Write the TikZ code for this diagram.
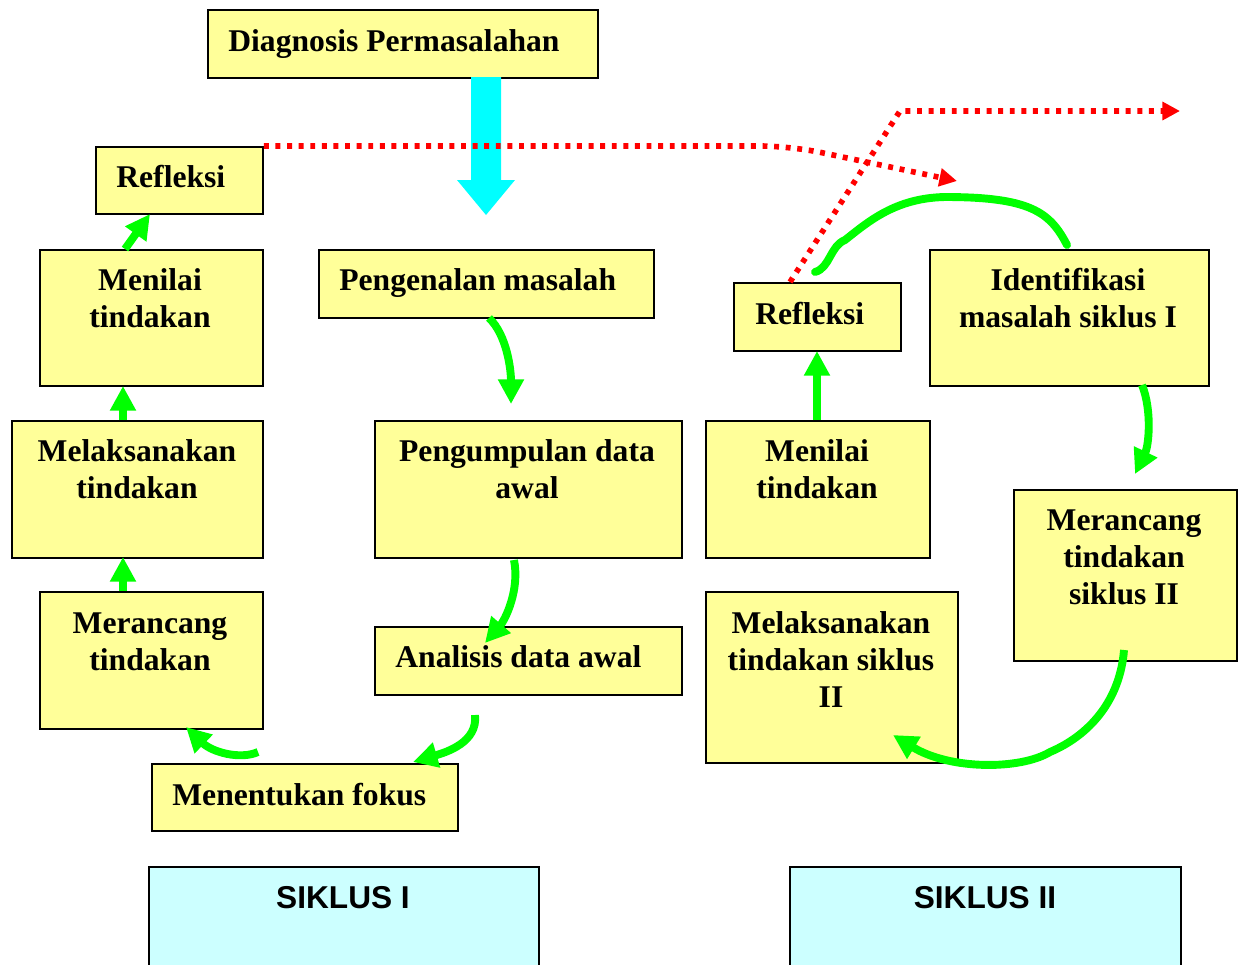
\documentclass[tikz,border=0pt]{standalone}
\usepackage{fontspec}
\setmainfont{Liberation Serif}
\newfontfamily\sikfont{Liberation Sans}
\usetikzlibrary{arrows.meta}
\definecolor{boxyellow}{HTML}{FFFF99}
\definecolor{sikcyan}{HTML}{CCFFFF}
\definecolor{bigcyan}{HTML}{00FFFF}
\definecolor{arrowgreen}{HTML}{00FF00}
\definecolor{dotred}{HTML}{FF0000}
\begin{document}
\begin{tikzpicture}[x=0.02cm,y=-0.02cm,
  box/.style={draw=black, line width=1.1pt, fill=boxyellow, inner sep=0pt, anchor=north west},
  sbox/.style={draw=black, line width=1.1pt, fill=sikcyan, inner sep=0pt, anchor=north west},
  txt/.style={font=\fontsize{18}{21}\selectfont\bfseries, align=center, inner sep=0pt, anchor=base},
  ltxt/.style={font=\fontsize{18}{21}\selectfont\bfseries, inner sep=0pt, anchor=base west},
  stxt/.style={font=\fontsize{18}{21}\selectfont\sikfont\bfseries, inner sep=0pt, anchor=base},
  garrow/.style={draw=arrowgreen, line width=4.5pt, -{Triangle[length=14pt,width=14pt]}},
  gline/.style={draw=arrowgreen, line width=4.5pt, line cap=round},
  rarrow/.style={draw=dotred, line width=3.2pt, dash pattern=on 2.8pt off 3.8pt, -{Triangle[length=10pt,width=10pt]}}
]
\clip (0,0) rectangle (1243,964);

% boxes
\node[box, minimum width=7.8cm,  minimum height=1.36cm] (diag)   at (207,9)   {};
\node[box, minimum width=3.34cm, minimum height=1.34cm] (refL)   at (95,146)  {};
\node[box, minimum width=4.46cm, minimum height=2.72cm] (menL)   at (39,249)  {};
\node[box, minimum width=6.7cm,  minimum height=1.36cm] (peng)   at (318,249) {};
\node[box, minimum width=5.02cm, minimum height=2.74cm] (melL)   at (11,420)  {};
\node[box, minimum width=6.14cm, minimum height=2.74cm] (pengum) at (374,420) {};
\node[box, minimum width=4.46cm, minimum height=2.74cm] (merL)   at (39,591)  {};
\node[box, minimum width=6.14cm, minimum height=1.36cm] (anal)   at (374,626) {};
\node[box, minimum width=6.12cm, minimum height=1.34cm] (ment)   at (151,763) {};
\node[sbox, minimum width=7.8cm, minimum height=2.4cm]  (sik1)   at (148,866) {};
\node[sbox, minimum width=7.82cm, minimum height=2.4cm] (sik2)   at (789,866) {};
\node[box, minimum width=3.34cm, minimum height=1.36cm] (refR)   at (733,282) {};
\node[box, minimum width=5.58cm, minimum height=2.72cm] (ident)  at (929,249) {};
\node[box, minimum width=4.48cm, minimum height=2.74cm] (menR)   at (705,420) {};
\node[box, minimum width=4.46cm, minimum height=3.42cm] (merR)   at (1013,489) {};
\node[box, minimum width=5.04cm, minimum height=3.42cm] (melR)   at (705,591) {};

% texts (multi-line nodes: base anchor is the last line)
\node[ltxt] (tdiag)   at (228,51)  {Diagnosis Permasalahan};
\node[ltxt] (trefL)   at (116,187) {Refleksi};
\node[txt]  (tmenL)   at (150,327) {Menilai\\tindakan};
\node[ltxt] (tpeng)   at (339,290) {Pengenalan masalah};
\node[txt]  (tmelL)   at (137,498) {Melaksanakan\\tindakan};
\node[txt]  (tpengum) at (527,498) {Pengumpulan data\\awal};
\node[txt]  (tmerL)   at (150,670) {Merancang\\tindakan};
\node[ltxt] (tanal)   at (395,667) {Analisis data awal};
\node[ltxt] (tment)   at (172,805) {Menentukan fokus};
\node[stxt] (tsik1)   at (343,908) {SIKLUS I};
\node[stxt] (tsik2)   at (985,908) {SIKLUS II};
\node[ltxt] (trefR)   at (755,324) {Refleksi};
\node[txt]  (tident)  at (1068,327) {Identifikasi\\masalah siklus I};
\node[txt]  (tmenR)   at (817,498) {Menilai\\tindakan};
\node[txt]  (tmerR)   at (1124,604) {Merancang\\tindakan\\siklus II};
\node[txt]  (tmelR)   at (831,707) {Melaksanakan\\tindakan siklus\\II};

% cyan arrow
\fill[bigcyan] (471,77) -- (501,77) -- (501,180) -- (515,180) -- (486,215) -- (457,180) -- (471,180) -- cycle;

% red dotted arrows
\coordinate (r1bend) at (790,146);
\coordinate (r1end) at (957,181);
\draw[rarrow, rounded corners=0.6cm] (refL.north east) -- (r1bend) -- (r1end);
\coordinate (r2start) at (790,282);
\coordinate (r2bend) at (900,111);
\coordinate (r2end) at (1180,111);
\draw[rarrow] (r2start) -- (r2bend) -- (r2end);

% green arrows (left cycle)
\coordinate (a1s) at (125,249);
\coordinate (a1e) at (150,214);
\draw[garrow] (a1s) -- (a1e);
\draw[garrow] (123,420) coordinate (a2s) -- (123,386) coordinate (a2e);
\draw[garrow] (123,591) coordinate (a3s) -- (123,557) coordinate (a3e);
\coordinate (a4s) at (258,752);
\coordinate (a4e) at (186,727);
\draw[garrow] (a4s) .. controls (240,760) and (212,752) .. (a4e);
\coordinate (a5s) at (475,715);
\coordinate (a5e) at (413,762);
\draw[garrow] (a5s) .. controls (478,742) and (447,752) .. (a5e);
\coordinate (a6s) at (489,318);
\coordinate (a6e) at (511,404);
\draw[garrow] (a6s) .. controls (507,335) and (511,370) .. (a6e);
\coordinate (a7s) at (514,560);
\coordinate (a7e) at (485,643);
\draw[garrow] (a7s) .. controls (520,590) and (505,620) .. (a7e);

% green arrows (right cycle)
\draw[garrow] (817,420) coordinate (a8s) -- (817,351) coordinate (a8e);
\coordinate (a9s) at (1067,245);
\coordinate (a9m) at (945,197);
\coordinate (a9n) at (845,240);
\coordinate (a9e) at (815,272);
\draw[gline] (a9s) .. controls (1050,212) and (1030,197) .. (a9m)
  .. controls (895,198) and (868,222) .. (a9n)
  .. controls (830,246) and (830,268) .. (a9e);
\coordinate (a10s) at (1142,385);
\coordinate (a10e) at (1135,474);
\draw[garrow] (a10s) .. controls (1152,410) and (1149,445) .. (a10e);
\coordinate (a11s) at (1124,650);
\coordinate (a11m) at (1050,752);
\coordinate (a11e) at (893,735);
\draw[garrow] (a11s) .. controls (1120,700) and (1090,735) .. (a11m)
  .. controls (1020,770) and (950,770) .. (a11e);
\end{tikzpicture}
\end{document}
